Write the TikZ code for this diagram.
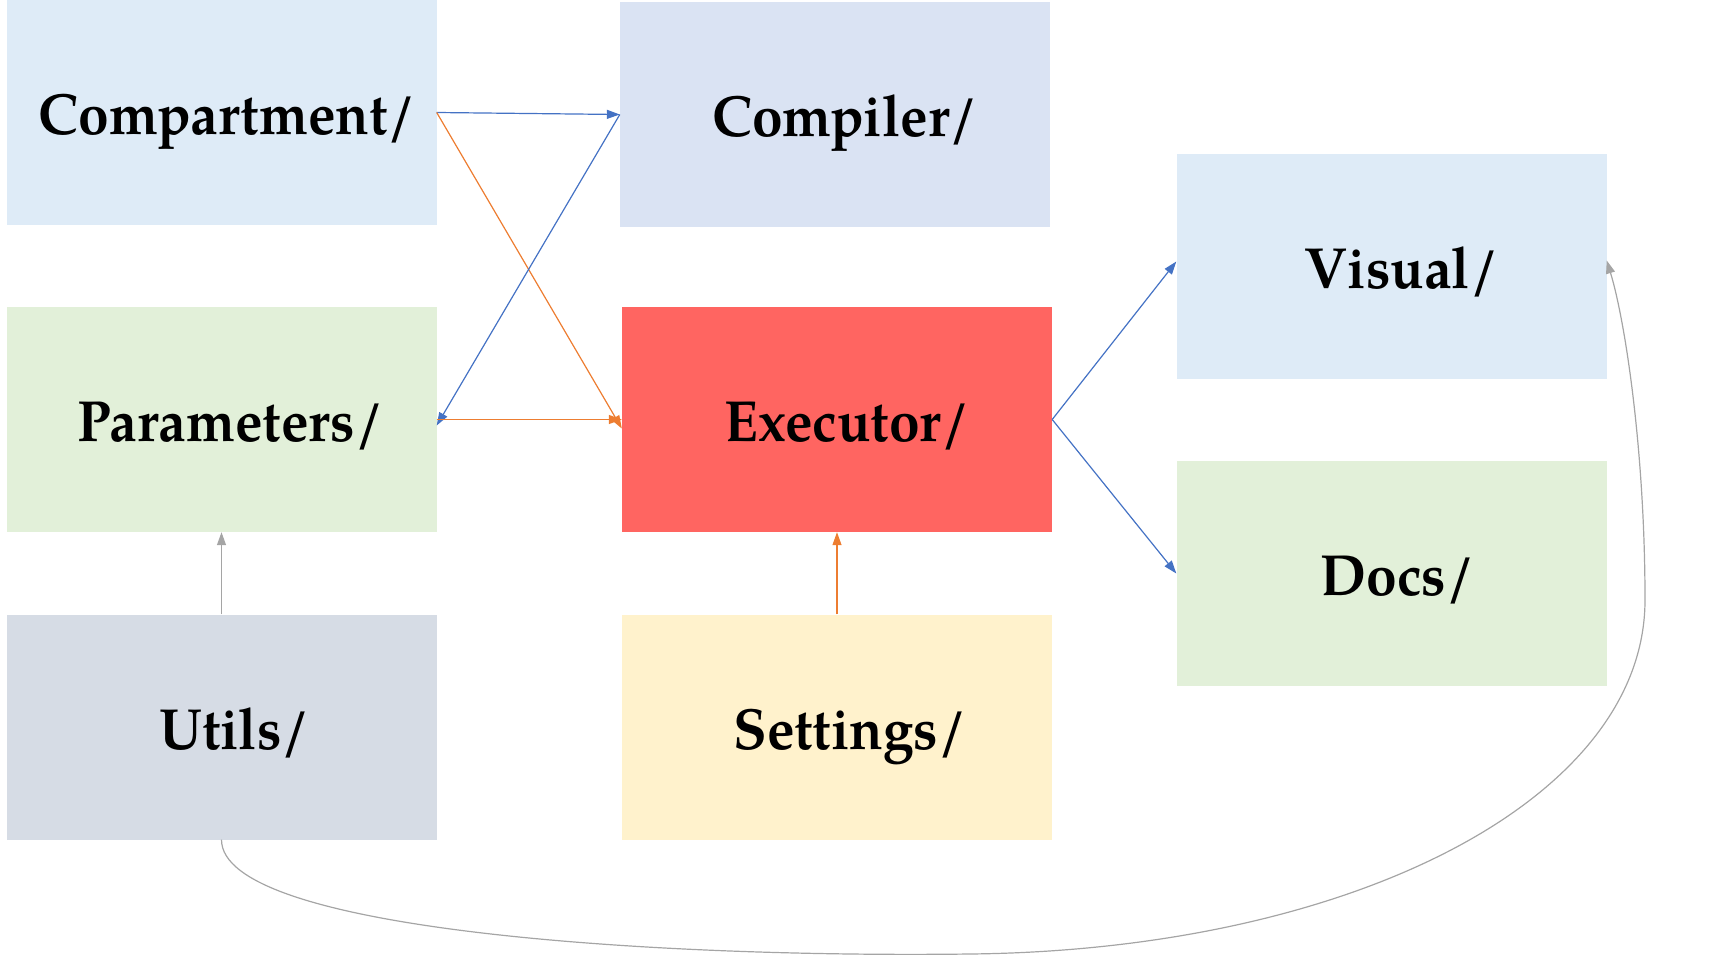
\documentclass[tikz,border=0pt]{standalone}
\usepackage{fontspec}
\setmainfont{TeX Gyre Pagella}[FakeStretch=0.95]
\usetikzlibrary{arrows.meta}
\definecolor{cBlueA}{HTML}{DEEBF7}
\definecolor{cBlueB}{HTML}{DAE3F3}
\definecolor{cGreen}{HTML}{E2F0D9}
\definecolor{cRed}{HTML}{FF6561}
\definecolor{cGrey}{HTML}{D6DCE5}
\definecolor{cYellow}{HTML}{FFF2CC}
\definecolor{aBlue}{HTML}{4472C4}
\definecolor{aOrange}{HTML}{ED7D31}
\definecolor{aGrey}{HTML}{A5A5A5}
\tikzset{
  box/.style={rectangle, inner sep=0pt, minimum width=430pt, minimum height=225pt,
    text height=44pt, text depth=0pt,
    font=\fontsize{58}{66}\selectfont\bfseries, text=black},
  conn/.style={line width=1.2pt, -{Triangle[length=13pt,width=9pt]}},
}
\begin{document}
\begin{tikzpicture}[x=1pt,y=-1pt]
\useasboundingbox (0,0) rectangle (1735,955);
\node[box, fill=cBlueA] (comp) at (221.5,112.5) {\hspace*{12pt}Compartment/};
\node[box, fill=cBlueB] (compiler) at (835,114.5) {\hspace*{20pt}Compiler/};
\node[box, fill=cBlueA] (visual) at (1391.5,266.5) {\hspace*{20pt}Visual/};
\node[box, fill=cGreen] (params) at (221.5,419.5) {\hspace*{18pt}Parameters/};
\node[box, fill=cRed] (exec) at (837,419.5) {\hspace*{20pt}Executor/};
\node[box, fill=cGreen] (docs) at (1391.5,573.5) {\hspace*{12pt}Docs/};
\node[box, fill=cGrey] (utils) at (221.5,727) {\hspace*{26pt}Utils/};
\node[box, fill=cYellow] (settings) at (837,727) {\hspace*{26pt}Settings/};

\draw[conn, aBlue] (comp.east) -- (compiler.west);
\draw[conn, aOrange] (comp.east) -- ([yshift=-9pt]exec.west);
\draw[conn, aBlue] (compiler.west) -- ([yshift=-6pt]params.east);
\draw[conn, aOrange] (params.east) -- (exec.west);
\draw[conn, aBlue] (exec.east) -- ([yshift=5pt]visual.west);
\draw[conn, aBlue] (exec.east) -- (docs.west);
\draw[conn, aGrey] (utils.north) -- (params.south);
\draw[conn, aOrange] (settings.north) -- (exec.south);
\draw[conn, aGrey] (utils.south) .. controls (221.5,930) and (650,958) .. (970,954)
  .. controls (1350,950) and (1645,800) .. (1645,600)
  .. controls (1645,450) and (1625,320) .. ([yshift=6pt]visual.east);
\end{tikzpicture}
\end{document}
